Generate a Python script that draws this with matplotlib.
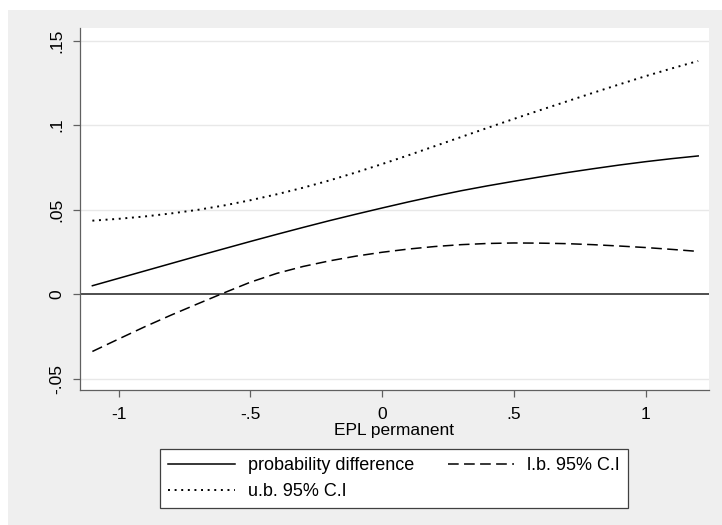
import matplotlib
matplotlib.use("Agg")
import matplotlib.pyplot as plt
from matplotlib.patches import Rectangle

plt.rcParams["font.family"] = ["Liberation Sans", "DejaVu Sans"]

# EPL permanent grid and estimated effects
epl = [-1.1, -1.0, -0.9, -0.8, -0.7, -0.6, -0.5, -0.4, -0.3, -0.2, -0.1, 0.0,
       0.1, 0.2, 0.3, 0.4, 0.5, 0.6, 0.7, 0.8, 0.9, 1.0, 1.1, 1.2]
prob_diff = [0.0049, 0.0093, 0.0137, 0.0181, 0.0225, 0.0268, 0.0311, 0.0353,
             0.0394, 0.0434, 0.0472, 0.0509, 0.0545, 0.0579, 0.0611, 0.0640,
             0.0667, 0.0693, 0.0718, 0.0741, 0.0763, 0.0783, 0.0801, 0.0817]
lower_ci = [-0.0340, -0.0266, -0.0193, -0.0124, -0.0058, 0.0007, 0.0070, 0.0122,
            0.0163, 0.0196, 0.0224, 0.0247, 0.0266, 0.0281, 0.0292, 0.0299,
            0.0302, 0.0301, 0.0298, 0.0292, 0.0284, 0.0275, 0.0264, 0.0252]
upper_ci = [0.0434, 0.0445, 0.0459, 0.0477, 0.0498, 0.0524, 0.0555, 0.0590,
            0.0629, 0.0672, 0.0719, 0.0769, 0.0821, 0.0875, 0.0929, 0.0983,
            0.1036, 0.1088, 0.1139, 0.1190, 0.1240, 0.1289, 0.1335, 0.1379]

xticks = [-1, -0.5, 0, 0.5, 1]
xtick_labels = ["-1", "-.5", "0", ".5", "1"]
yticks = [-0.05, 0, 0.05, 0.1, 0.15]
ytick_labels = ["-.05", "0", ".05", ".1", ".15"]

W, H = 722, 525
fig = plt.figure(figsize=(W / 100, H / 100), dpi=100, facecolor="white")
# grey graph region
fig.patches.append(Rectangle((8 / W, 0), 1 - 8 / W, 1 - 10 / H,
                             transform=fig.transFigure, facecolor="#efefef",
                             edgecolor="none", zorder=-5))

ax = fig.add_axes([80 / W, 1 - 390 / H, 629 / W, 362 / H])
ax.set_zorder(1)
ax.set_facecolor("white")

ax.set_xlim(-1.147, 1.241)
ax.set_ylim(-0.0568, 0.1574)

for y in yticks:
    if y != 0:
        ax.axhline(y, color="#e8e8e8", lw=1.0, zorder=1)
ax.axhline(0, color="#404040", lw=1.3, zorder=2)

l1, = ax.plot(epl, prob_diff, color="black", lw=1.1, zorder=3,
              label="probability difference")
l2, = ax.plot(epl, lower_ci, color="black", lw=1.1, zorder=3,
              dashes=(7, 3.5), label="l.b. 95% C.I")
l3, = ax.plot(epl, upper_ci, color="black", lw=1.4, zorder=3,
              dashes=(1.0, 2.4), label="u.b. 95% C.I")

for side in ["top", "right"]:
    ax.spines[side].set_visible(False)
for side in ["left", "bottom"]:
    ax.spines[side].set_color("#606060")
    ax.spines[side].set_linewidth(0.9)

ax.set_xticks(xticks, xtick_labels)
ax.set_yticks(yticks, ytick_labels)
ax.tick_params(axis="both", direction="out", length=5, width=0.9,
               color="#606060", labelsize=12.5, labelcolor="black")
ax.tick_params(axis="x", pad=7)
ax.tick_params(axis="y", pad=6.5)
plt.setp(ax.get_yticklabels(), rotation=90, va="center")

ax.set_xlabel("EPL permanent", fontsize=12.5, labelpad=1)

leg = fig.legend(handles=[l1, l3, l2], ncol=2, loc="upper left",
                 bbox_to_anchor=(160 / W, 1 - 508 / H, 468 / W, 59 / H),
                 mode="expand", borderaxespad=0, fontsize=13,
                 handlelength=3.7, handletextpad=0.7, columnspacing=2.0,
                 labelspacing=0.5, borderpad=0.45, fancybox=False,
                 framealpha=1, edgecolor="#404040", facecolor="white")
leg.get_frame().set_linewidth(0.9)

fig.savefig("out.png", dpi=100, facecolor=fig.get_facecolor())
